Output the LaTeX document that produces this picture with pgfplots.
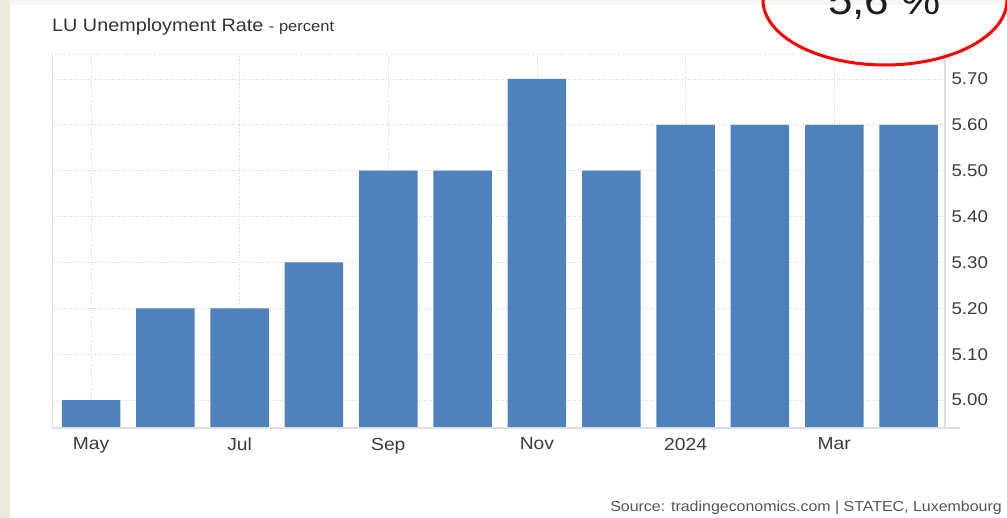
\documentclass[border=0pt]{standalone}
\usepackage{fontspec}
\setmainfont[FakeStretch=1.1]{Liberation Sans}
\usepackage{pgfplots}
\pgfplotsset{compat=1.18}
\definecolor{barblue}{RGB}{79,129,189}
\definecolor{beige}{RGB}{236,233,222}
\definecolor{topstrip}{RGB}{247,246,242}
\definecolor{gridc}{RGB}{215,215,215}
\definecolor{axisc}{RGB}{222,222,222}
\definecolor{txt}{RGB}{60,60,60}
\begin{document}
\begin{tikzpicture}[x=1pt,y=1pt]
\path[use as bounding box] (0,0) rectangle (1007,518);
\fill[white] (0,0) rectangle (1007,518);
\fill[beige] (0,0) rectangle (10,518);
\fill[topstrip] (10,513) rectangle (1007,518);
\begin{axis}[
  at={(52pt,90pt)}, anchor=south west,
  scale only axis, width=893pt, height=374pt,
  xmin=-0.525, xmax=11.49, ymin=4.939, ymax=5.7545,
  ybar, bar width=58.5pt,
  axis line style={draw=none},
  tick style={draw=none},
  xtick={0,2,4,6,8,10},
  xticklabels={May,Jul,Sep,Nov,2024,Mar},
  ytick={5.0,5.1,5.2,5.3,5.4,5.5,5.6,5.7},
  yticklabels={5.00,5.10,5.20,5.30,5.40,5.50,5.60,5.70},
  yticklabel pos=right,
  xticklabel style={font=\fontsize{17.5}{19}\selectfont, text=txt, yshift=-2pt},
  yticklabel style={font=\fontsize{17}{19}\selectfont, text=txt, xshift=3pt},
  grid=major,
  major grid style={gridc, dotted, line width=0.9pt},
]
\addplot[fill=barblue, draw=none] coordinates {
(0,5.0) (1,5.2) (2,5.2) (3,5.3) (4,5.5) (5,5.5) (6,5.7) (7,5.5) (8,5.6) (9,5.6) (10,5.6) (11,5.6)
};
\end{axis}
\draw[gridc, dotted, line width=0.9pt] (52,464) -- (945,464);
\draw[axisc, line width=1pt] (52,90) -- (52,464);
\draw[axisc, line width=1.2pt] (945,90) -- (945,464);
\draw[axisc, line width=1.2pt] (52,90) -- (960,90);
\node[anchor=base west, inner sep=0, text={rgb,255:red,51;green,51;blue,51}] at (52,486)
  {\fontsize{18}{20}\selectfont LU Unemployment Rate {\fontsize{15}{17}\selectfont - percent}};
\node[anchor=base east, inner sep=0, text={rgb,255:red,85;green,85;blue,85}] at (1002,6)
  {\fontsize{14.5}{16}\selectfont Source: tradingeconomics.com | STATEC, Luxembourg};
\node[anchor=base, inner sep=0, text={rgb,255:red,30;green,30;blue,30}] at (884.5,503)
  {\fontsize{40}{44}\selectfont 5,6 \%};
\draw[red, line width=3pt] (885,518) ellipse [x radius=122, y radius=65];
\end{tikzpicture}
\end{document}
